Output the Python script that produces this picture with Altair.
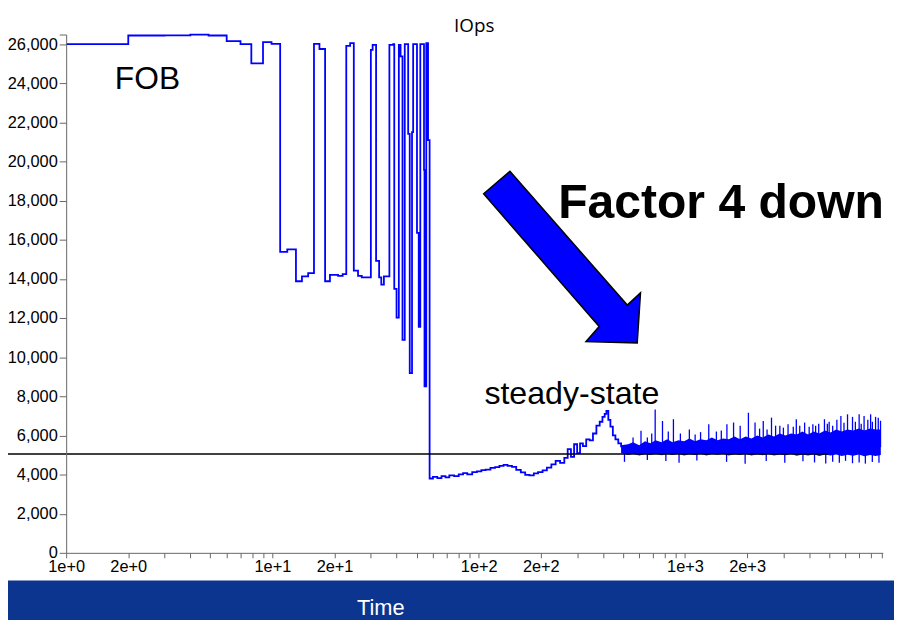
import altair as alt
import pandas as pd

# ---------------- data ----------------
# early phase (step function, "FOB")
step_t = [1.0, 2.0, 3.0, 4.0, 4.9, 6.0, 7.0, 7.9, 9.0, 9.9, 10.9, 11.8, 13.0, 13.9, 14.9,
          15.9, 16.9, 18.0, 19.0, 20.8, 21.9, 22.8, 23.8, 24.8, 26.0, 27.1, 30.0, 30.6,
          31.8, 32.9, 33.7, 34.7, 36.9, 38.5, 38.96, 39.96, 41.0, 41.8, 42.7, 43.8, 45.5,
          46.3, 47.5, 48.1, 50.2, 51.2, 52.1, 54.3, 54.6, 55.7, 56.8]
step_v = [26000, 26440, 26450, 26490, 26440, 26150, 26000, 25020, 26100, 26010, 15380,
          15510, 13880, 14130, 14300, 26010, 25750, 13880, 14210, 14160, 14250, 25910,
          26050, 14420, 14160, 14080, 25710, 25960, 14920, 14080, 13710, 14130, 25960,
          26000, 13490, 12020, 25960, 25375, 10880, 26000, 21410, 9190, 21500, 26000,
          16350, 11550, 26000, 19570, 8510, 26050, 21090]

# transition after the drop
trans_t = [57.8, 60, 63, 66, 69, 72, 76, 80, 84, 88, 93, 98, 103, 108, 114, 120, 126, 132,
           138, 145, 152, 160, 168, 176, 185, 194, 204, 214, 225, 236, 248, 260, 270, 280,
           290, 300, 310, 320, 332, 345, 358, 372, 386, 398, 408, 416, 425, 435, 447, 460,
           475, 490]
trans_v = [3800, 3880, 3820, 3920, 3860, 3960, 3920, 4010, 4070, 4010, 4130, 4160, 4230,
           4250, 4340, 4380, 4440, 4500, 4450, 4390, 4240, 4110, 3990, 3960, 4060, 4120,
           4210, 4350, 4520, 4700, 4600, 4850, 5300, 4900, 5550, 5100, 5600, 5450, 5800,
           5750, 6100, 6500, 6700, 6950, 7100, 7250, 6800, 6450, 6000, 5800, 5600, 5400]

# steady state: dense noise band (low / high envelope)
band_t = [490, 530, 560, 600, 640, 680, 720, 770, 820, 870, 930, 990, 1050, 1120, 1190,
          1270, 1350, 1440, 1530, 1630, 1740, 1850, 1970, 2100, 2240, 2380, 2540, 2700,
          2880, 3070, 3270, 3480, 3710, 3950, 4210, 4480, 4770, 5080, 5410, 5760, 6140,
          6540, 6960, 7410, 7890, 8400, 8900]
band_lo = [5100, 5000, 5060, 4980, 5040, 5000, 5060, 4990, 5050, 5000, 5070, 4980, 5040,
           5000, 5060, 4980, 5050, 5010, 5060, 4970, 5040, 5000, 5060, 4980, 5040, 4990,
           5050, 4970, 5030, 4990, 5050, 4960, 5030, 4980, 5040, 4950, 5020, 4970, 5030,
           4950, 5010, 4960, 5020, 4940, 5000, 4950, 5000]
band_hi = [5500, 5550, 5650, 5500, 5700, 5600, 5750, 5650, 5800, 5650, 5750, 5700, 5850,
           5700, 5800, 5750, 5900, 5750, 5850, 5800, 5950, 5800, 5950, 5850, 6000, 5900,
           6050, 5950, 6100, 6000, 6100, 6050, 6200, 6050, 6200, 6100, 6250, 6150, 6300,
           6200, 6300, 6250, 6350, 6250, 6350, 6300, 6300]

# steady state: upward and downward spikes
up_t = [612, 657, 717, 778, 830, 879, 950, 1050, 1190, 1304, 1420, 1597, 1720, 1852, 2030,
        2186, 2396, 2500, 2627, 2883, 3000, 3160, 3465, 3600, 3802, 4000, 4168, 4450, 4744,
        5000, 5200, 5450, 5700, 6138, 6489, 6988, 7384, 7700, 7943, 8395, 8872,
        560, 690, 1120, 1500, 2300, 2750, 3350, 4300, 4900, 5900, 6700, 7150, 8100, 8650]
up_v = [6240, 5900, 7330, 6740, 6200, 6830, 6100, 6300, 6170, 6575, 6200, 6575, 6660, 6490,
        7160, 6660, 6740, 6300, 6910, 6490, 6400, 6575, 6830, 6500, 6660, 6450, 6575, 6600,
        6830, 6700, 6490, 6800, 7000, 7080, 6950, 7080, 7000, 6800, 7080, 6950, 6750,
        5900, 6100, 6050, 6250, 6350, 6500, 6450, 6500, 6600, 6650, 6700, 6600, 6700, 6900]
down_t = [509, 657, 808, 936, 1142, 1591, 1957, 2477, 3047, 3731, 4247, 4813, 5200, 5601,
          6003, 6489, 6988, 7491, 8095, 8718]
down_v = [4650, 4750, 4700, 4600, 4720, 4650, 4550, 4700, 4600, 4680, 4620, 4560, 4650,
          4600, 4700, 4580, 4620, 4560, 4640, 4600]

steady_level = 5050

# axis ticks
x_ticks = [1, 2, 3, 4, 5, 6, 7, 8, 9, 10, 20, 30, 40, 50, 60, 70, 80, 90,
           100, 200, 300, 400, 500, 600, 700, 800, 900,
           1000, 2000, 3000, 4000, 5000, 6000, 7000, 8000, 9000]
x_labeled = [1, 2, 10, 20, 100, 200, 1000, 2000]
y_ticks = [0, 2000, 4000, 6000, 8000, 10000, 12000, 14000, 16000, 18000, 20000, 22000,
           24000, 26000, 26490]

# ---------------- chart ----------------
main = pd.DataFrame({"t": step_t + trans_t, "v": step_v + trans_v})
band = pd.DataFrame({"t": band_t, "lo": band_lo, "hi": band_hi})
up = pd.DataFrame({"t": up_t, "v": up_v})
down = pd.DataFrame({"t": down_t, "v": down_v})
one = alt.Data(values=[{}])

BLUE = "#0000ff"
FONT = "Liberation Sans"

xscale = alt.Scale(type="log", domain=[1, 9100], nice=False)
yscale = alt.Scale(domain=[0, 26490], nice=False)

labeled_js = "[" + ",".join(str(v) for v in x_labeled) + "]"
x_axis = alt.Axis(
    values=x_ticks,
    labelExpr=f"indexof({labeled_js}, datum.value) >= 0 ? format(datum.value, '.0e') : ''",
    title="Time", titleColor="white", titleFont=FONT, titleFontSize=22,
    titleFontWeight="normal", titleX=317, titleY=62.5, titleAlign="center",
    titleBaseline="alphabetic", titleAnchor="start",
    tickSize=5, labelPadding=1, labelFont=FONT, labelFontSize=16.5, labelColor="black",
    domainColor="#666666", tickColor="#666666", grid=False, zindex=2,
    labelFlush=False, labelOverlap=False,
)
y_axis = alt.Axis(
    values=y_ticks,
    labelExpr="datum.value > 26000 ? '' : format(datum.value, ',')",
    title=None, tickSize=7, labelPadding=2, labelFont=FONT, labelFontSize=16.5,
    labelColor="black", domainColor="#666666", tickColor="#666666", grid=False,
    zindex=2, labelFlush=False, labelOverlap=False,
)


def X(field):
    return alt.X(field, type="quantitative", scale=xscale, axis=x_axis)


def Y(field):
    return alt.Y(field, type="quantitative", scale=yscale, axis=y_axis)


bg = alt.Chart(one).mark_rect(color="white").encode(
    x=alt.value(-70), x2=alt.value(850), y=alt.value(-40), y2=alt.value(551)
)

band_layer = alt.Chart(band).mark_area(color=BLUE, opacity=1).encode(
    x=X("t"), y=Y("lo"), y2="hi"
)
up_layer = alt.Chart(up).mark_rule(color=BLUE, strokeWidth=1.3).encode(
    x=X("t"), y=Y("v"), y2=alt.datum(5400)
)
down_layer = alt.Chart(down).mark_rule(color=BLUE, strokeWidth=1.3).encode(
    x=X("t"), y=Y("v"), y2=alt.datum(5200)
)
line_layer = alt.Chart(main).mark_line(color=BLUE, strokeWidth=1.8,
                                       interpolate="step-after").encode(
    x=X("t"), y=Y("v")
)
level_rule = alt.Chart(one).mark_rule(color="black", strokeWidth=1.5).encode(
    x=alt.value(-58.7), x2=alt.value(769),
    y=alt.Y(datum=steady_level, type="quantitative", scale=yscale, axis=y_axis),
)

title_txt = alt.Chart(one).mark_text(
    text="IOps", font="Open Sans", fontSize=19, color="black", align="center",
    baseline="alphabetic", x=411.8, y=-2.7
).encode()
fob_txt = alt.Chart(one).mark_text(
    text="FOB", font=FONT, fontSize=32, color="black", align="center",
    baseline="alphabetic", x=82, y=55
).encode()
steady_txt = alt.Chart(one).mark_text(
    text="steady-state", font=FONT, fontSize=32.4, color="black", align="left",
    baseline="alphabetic", x=422, y=373
).encode()
factor_txt = alt.Chart(one).mark_text(
    text="Factor 4 down", font=FONT, fontSize=48.5, fontWeight="bold", color="black",
    align="left", baseline="alphabetic", x=496.5, y=185
).encode()

ARROW = ("M -0.911 -0.739 L -0.606 -1 L 0.755 0.552 L 0.908 0.41 "
         "L 0.87 0.992 L 0.276 0.974 L 0.429 0.801 Z")
arrow = alt.Chart(one).mark_point(
    shape=ARROW, size=30276, filled=True, color=BLUE, stroke="black",
    strokeWidth=1.5, opacity=1, x=500.5, y=225
).encode()

chart = alt.layer(
    bg, band_layer, up_layer, down_layer, line_layer, level_rule,
    title_txt, fob_txt, steady_txt, factor_txt, arrow
).properties(
    width=824, height=523,
    autosize=alt.AutoSizeParams(type="none"),
    padding={"left": 58.7, "top": 24, "right": 11.3, "bottom": 65},
    background="#0b358f",
).configure_view(strokeWidth=0)

chart.save("out.html", embed_options={"renderer": "svg", "actions": False})
